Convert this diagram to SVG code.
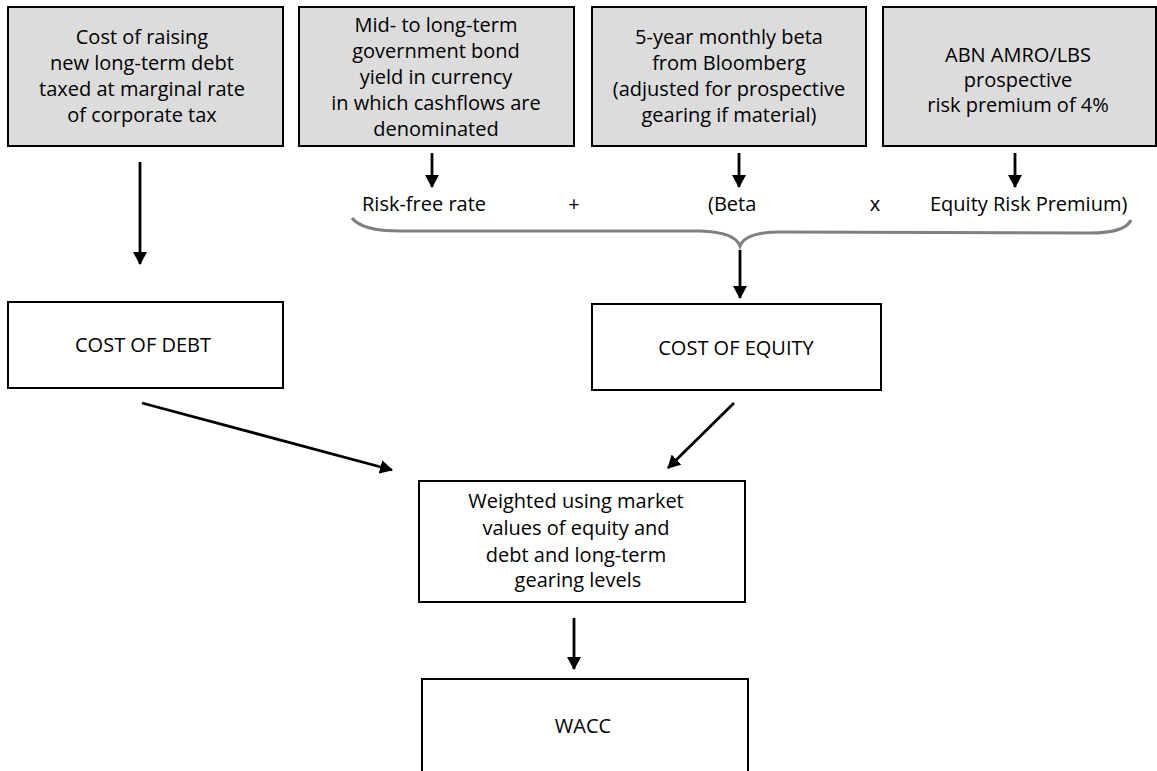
<svg xmlns="http://www.w3.org/2000/svg" width="1157" height="771" viewBox="0 0 1157 771">
<style>
.src{fill:#dcdcdc;stroke:#000;stroke-width:2}
.box{fill:#fff;stroke:#000;stroke-width:2}
text{font-family:"Open Sans","Noto Sans","DejaVu Sans",sans-serif;font-size:20px;fill:#000;text-anchor:middle}
.l{text-anchor:start}
.ar{stroke:#000;stroke-width:2.8;fill:none;marker-end:url(#ah)}
</style>
<defs>
<marker id="ah" markerUnits="userSpaceOnUse" markerWidth="14" markerHeight="14" viewBox="0 0 14 14" refX="12" refY="7" orient="auto">
<path d="M0,0 L13,7 L0,14 Z" fill="#000"/>
</marker>
</defs>
<g id="n-debt-src">
<rect class="src" x="8" y="7" width="275" height="139"/>
<text x="142" y="44">Cost of raising</text>
<text x="142" y="70">new long-term debt</text>
<text x="142" y="96">taxed at marginal rate</text>
<text x="142" y="122">of corporate tax</text>
</g>
<g id="n-bond">
<rect class="src" x="299" y="7" width="275" height="139"/>
<text x="436" y="32">Mid- to long-term</text>
<text x="436" y="58">government bond</text>
<text x="436" y="84">yield in currency</text>
<text x="436" y="110">in which cashflows are</text>
<text x="436" y="136">denominated</text>
</g>
<g id="n-beta">
<rect class="src" x="592" y="7" width="274" height="139"/>
<text x="729" y="44">5-year monthly beta</text>
<text x="729" y="70">from Bloomberg</text>
<text x="729" y="96">(adjusted for prospective</text>
<text x="729" y="122">gearing if material)</text>
</g>
<g id="n-erp">
<rect class="src" x="883" y="7" width="273" height="139"/>
<text x="1018" y="62">ABN AMRO/LBS</text>
<text x="1018" y="87">prospective</text>
<text x="1018" y="112">risk premium of 4%</text>
</g>
<g id="formula">
<text class="l" x="362" y="211">Risk-free rate</text>
<text x="574" y="211">+</text>
<text class="l" x="708" y="211">(Beta</text>
<text x="875" y="211">x</text>
<text class="l" x="930" y="211">Equity Risk Premium)</text>
<path d="M352,218 Q362,231 400,231 L700,231 Q735,232 740,246 Q745,232 780,232 L1090,233 Q1125,233 1131,220" fill="none" stroke="#808080" stroke-width="3"/>
</g>
<g id="n-cod">
<rect class="box" x="8" y="302" width="275" height="86"/>
<text x="143" y="352">COST OF DEBT</text>
</g>
<g id="n-coe">
<rect class="box" x="592" y="304" width="289" height="86"/>
<text x="736" y="355">COST OF EQUITY</text>
</g>
<g id="n-weighted">
<rect class="box" x="419" y="481" width="326" height="121"/>
<text x="576" y="508">Weighted using market</text>
<text x="576" y="535">values of equity and</text>
<text x="576" y="562">debt and long-term</text>
<text x="578" y="587">gearing levels</text>
</g>
<g id="n-wacc">
<rect class="box" x="422" y="679" width="326" height="110"/>
<text x="583" y="733">WACC</text>
</g>
<g id="connectors">
<line class="ar" x1="140" y1="162" x2="140" y2="264"/>
<line class="ar" x1="432" y1="153" x2="432" y2="187"/>
<line class="ar" x1="739" y1="153" x2="739" y2="187"/>
<line class="ar" x1="1015" y1="153" x2="1015" y2="187"/>
<line class="ar" x1="740" y1="250" x2="740" y2="298"/>
<line class="ar" x1="142" y1="403" x2="392" y2="470"/>
<line class="ar" x1="734" y1="403" x2="668" y2="468"/>
<line class="ar" x1="574" y1="618" x2="574" y2="669"/>
</g>
</svg>
